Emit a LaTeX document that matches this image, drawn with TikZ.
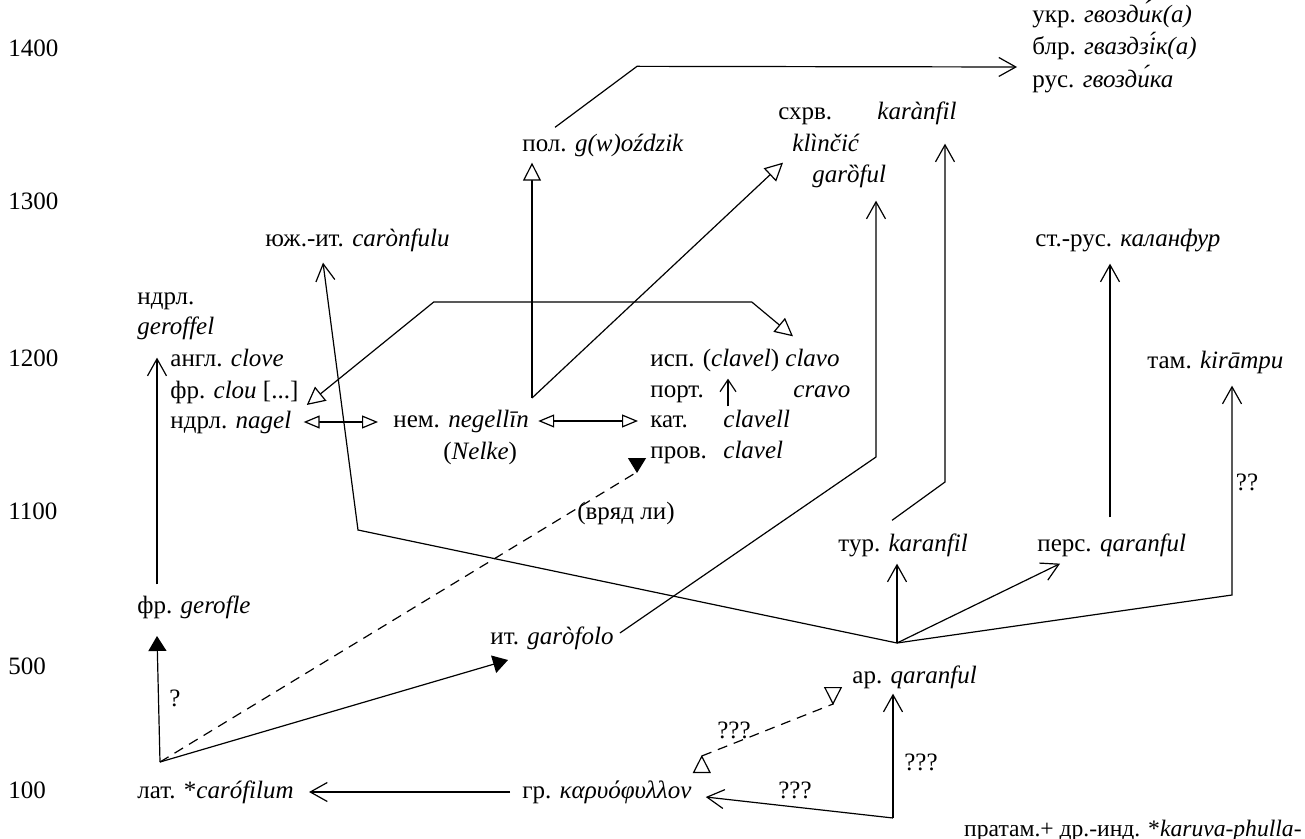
\documentclass[tikz,border=0pt]{standalone}
\usepackage{fontspec}
\setmainfont{Liberation Serif}
\usepackage{tikz}
\usetikzlibrary{arrows.meta,calc}
\tikzset{
  word/.style={anchor=west, inner sep=0pt, text height=8.75pt, text depth=2.5pt,
               font=\fontsize{12.5}{15}\selectfont},
  note/.style={inner sep=0pt, font=\fontsize{12.5}{15}\selectfont},
  edge/.style={line width=0.6pt},
  vlink/.style={edge, -{Straight Barb[length=8.5pt,width=9.5pt]}},
  smallv/.style={edge, -{Straight Barb[length=6pt,width=8pt]}},
  opentip/.style={edge, -{Triangle[open,fill=white,length=9pt,width=9pt]}},
  loanpair/.style={edge, {Triangle[open,fill=white,length=9pt,width=9pt]}-{Triangle[open,fill=white,length=9pt,width=9pt]}},
  mutual/.style={edge, {Triangle[open,fill=white,length=8pt,width=6.5pt]}-{Triangle[open,fill=white,length=8pt,width=6.5pt]}},
  fulltip/.style={edge, -{Triangle[length=7.5pt,width=9pt]}},
  doubt/.style={dash pattern=on 5pt off 3.5pt},
}

\begin{document}
\begin{tikzpicture}[x=0.5pt, y=-0.5pt]
  \useasboundingbox (0,0) rectangle (1305,839);
  \node[word] (yr1400) at (8,50) {1400};
  \node[word] (yr1300) at (8,203) {1300};
  \node[word] (yr1200) at (8,360) {1200};
  \node[word] (yr1100) at (8,513) {1100};
  \node[word] (yr500) at (8,668) {500};
  \node[word] (yr100) at (8,792) {100};

  \node[word] (ukr) at (1032,16) {укр. \textit{гвозди́к(а)}};
  \node[word] (blr) at (1032,48) {блр. \textit{гваздзі́к(а)}};
  \node[word] (rus) at (1032,81) {рус. \textit{гвозди́ка}};
  \node[word] (pol) at (522,145) {пол. \textit{g(w)oździk}};
  \node[word] (shrv) at (778,113) {схрв.};
  \node[word] (karanfilS) at (877,113) {\textit{karànfil}};
  \node[word] (klincic) at (792,145) {\textit{klìnčić}};
  \node[word] (garoful) at (812,176) {\textit{garȍful}};
  \node[word] (yuzhit) at (265,240) {юж.-ит. \textit{carònfulu}};
  \node[word] (strus) at (1035,240) {ст.-рус. \textit{каланфур}};
  \node[word] (ndrlg) at (137,298) {ндрл.};
  \node[word] (geroffel) at (137,328) {\textit{geroffel}};
  \node[word] (angl) at (170,360) {англ. \textit{clove}};
  \node[word] (frclou) at (170,392) {фр. \textit{clou} [...]};
  \node[word] (nagel) at (170,422) {ндрл. \textit{nagel}};
  \node[word] (nem) at (393,421) {нем. \textit{negellīn}};
  \node[word] (nelke) at (443,453) {(\textit{Nelke})};
  \node[word] (isp) at (650,360) {исп. (\textit{clavel}) \textit{clavo}};
  \node[word] (port) at (650,391) {порт.};
  \node[word] (cravo) at (793,391) {\textit{cravo}};
  \node[word] (kat) at (650,421) {кат.};
  \node[word] (clavell) at (723,421) {\textit{clavell}};
  \node[word] (prov) at (650,452) {пров.};
  \node[word] (clavel) at (723,452) {\textit{clavel}};
  \node[word] (tam) at (1147,362) {там. \textit{kirāmpu}};
  \node[word] (tur) at (838,545) {тур. \textit{karanfil}};
  \node[word] (pers) at (1037,545) {перс. \textit{qaranful}};
  \node[word] (frger) at (137,607) {фр. \textit{gerofle}};
  \node[word] (ital) at (490,638) {ит. \textit{garòfolo}};
  \node[word] (ar) at (852,677) {ар. \textit{qaranful}};
  \node[word] (lat) at (137,792) {лат. *\textit{carófilum}};
  \node[word] (gr) at (522,792) {гр. \textit{καρυόφυλλον}};
  \node[word, anchor=east, font=\fontsize{11.8}{14}\selectfont] (pratam) at (1302,830) {пратам.+ др.-инд. *\textit{karuva-phulla-}};

  \node[note] (q1) at (175,698) {?};
  \node[note] (vryad) at (626,513) {(вряд ли)};
  \node[note] (q3a) at (734,730) {???};
  \node[note] (q3b) at (795,790) {???};
  \node[note] (q3c) at (921,762) {???};
  \node[note] (q2) at (1247,482) {??};

  \coordinate (lat0) at (160,762);
  \coordinate (fan) at (897,643);
  \coordinate (root) at (893,818);
  \coordinate (nem0) at (532,398);
  \coordinate (tamfoot) at (1232,595);
  \coordinate (yuzhfoot) at (358,530);
  \coordinate (garbend) at (876,457);
  \coordinate (karbend) at (945,482);

  \draw[fulltip] (lat0) -- ($(frger.west)+(20,29)$);
  \draw[fulltip] (lat0) -- ($(ital.west)+(18,22)$);
  \draw[fulltip, doubt] (lat0) -- ($(prov.west)+(-13,20)$) -- ($(prov.west)+(-13,21)$);
  \draw[vlink, shorten <=6pt, shorten >=7.5pt] (gr.west) -- (lat.east);
  \draw[vlink, shorten >=2.5pt] (root) -- (root |- ar.south);
  \draw[vlink] (root) -- ($(gr.east)+(14,5)$);
  \draw[loanpair, doubt] ($(gr.east)+(10,-37)$) -- ($(gr.east)+(10,-36)$) -- ($(ar.west)+(-19,27)$) -- ($(ar.west)+(-19,28)$);

  \draw[vlink, shorten >=3.5pt] (fan) -- (fan |- tur.south);
  \draw[vlink] (fan) -- ($(pers.south west)+(23,7)$);
  \draw[vlink, shorten >=6pt] (fan) -- (tamfoot) -- (tamfoot |- tam.south);
  \draw[vlink] (fan) -- (yuzhfoot) -- ($(yuzhit.south west)+(58,11)$);
  \draw[vlink, shorten >=6.5pt] ($(ital.east)+(6,-5)$) -- (garbend) -- (garbend |- garoful.south);
  \draw[vlink, shorten >=9.5pt] ($(tur.north west)+(54,-13)$) -- (karbend) -- (karbend |- karanfilS.south);
  \draw[vlink, shorten >=6pt] ($(pers.north west)+(73,-16)$) coordinate (persup) -- (persup |- strus.south);

  \draw[opentip, shorten >=3pt] (nem0) -- (nem0 |- pol.south);
  \draw[opentip] (nem0) -- ($(klincic.south west)+(-9,6)$);
  \draw[vlink] ($(pol.north west)+(33,-6)$) -- ++(82,-61) -- ($(rus.west)+(-15,-14)$);
  \draw[mutual, shorten <=6pt, shorten >=7.5pt] (nagel.east) -- (nagel.east -| nem.west);
  \draw[mutual, shorten <=4.5pt, shorten >=6pt] (nem.east) -- (nem.east -| kat.west);
  \draw[smallv] ($(clavell.north west)+(5,-3)$) -- ($(isp.south west)+(78,7)$);
  \draw[vlink] ($(frger.north west)+(20,-11)$) -- ($(geroffel.south west)+(20,18)$);
  \draw[loanpair] ($(frclou.east)+(8,13)$) -- ++(127,-103) -- ++(318,0) -- ($(isp.north west)+(143,-12)$);
\end{tikzpicture}
\end{document}
